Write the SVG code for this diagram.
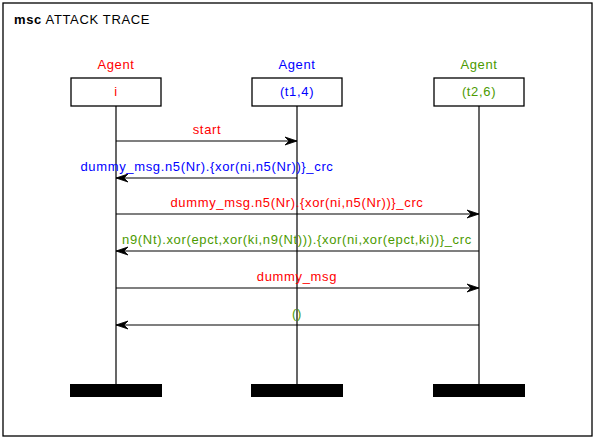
<svg xmlns="http://www.w3.org/2000/svg" width="595" height="439" viewBox="0 0 595 439">
<style>
text{font-family:"Liberation Sans",Arial,sans-serif;font-size:13px;letter-spacing:0.65px;text-anchor:middle}
.box{fill:#fff;stroke:#000;stroke-width:1.3}
.life{stroke:#000;stroke-width:1.2}
.msg{stroke:#000;stroke-width:1.2;fill:none}
.bar{fill:#000}
.r{fill:#ff0000}.b{fill:#0000ff}.g{fill:#4c9a00}
</style>
<defs>
<marker id="ah" viewBox="0 0 12 10" refX="12" refY="5" markerWidth="12" markerHeight="10" markerUnits="userSpaceOnUse" orient="auto">
<path d="M0,1 L12,5 L0,9 L4,5 Z" fill="#000" stroke="#000" stroke-width="0.8" stroke-linejoin="miter"/>
</marker>
</defs>
<rect x="3" y="3" width="589" height="433" fill="#fff" stroke="#000" stroke-width="1.3"/>
<text x="14" y="24" style="text-anchor:start"><tspan font-weight="bold">msc</tspan> ATTACK TRACE</text>
<g id="agent_i">
<text x="116" y="69" class="r">Agent</text>
<line class="life" x1="116" y1="106" x2="116" y2="384"/>
<rect class="box" x="71" y="78" width="90" height="28"/>
<text x="116" y="96" class="r">i</text>
<rect class="bar" x="70" y="384" width="92" height="13"/>
</g>
<g id="agent_t1">
<text x="297" y="69" class="b">Agent</text>
<line class="life" x1="297" y1="106" x2="297" y2="384"/>
<rect class="box" x="252" y="78" width="90" height="28"/>
<text x="297" y="96" class="b">(t1,4)</text>
<rect class="bar" x="251" y="384" width="92" height="13"/>
</g>
<g id="agent_t2">
<text x="479" y="69" class="g">Agent</text>
<line class="life" x1="479" y1="106" x2="479" y2="384"/>
<rect class="box" x="434" y="78" width="90" height="28"/>
<text x="479" y="96" class="g">(t2,6)</text>
<rect class="bar" x="433" y="384" width="92" height="13"/>
</g>
<g id="connectors">
<line class="msg" x1="116" y1="141" x2="297" y2="141" marker-end="url(#ah)"/>
<text x="207" y="134" class="r">start</text>
<line class="msg" x1="297" y1="178" x2="116" y2="178" marker-end="url(#ah)"/>
<text x="207" y="171" class="b">dummy_msg.n5(Nr).{xor(ni,n5(Nr))}_crc</text>
<line class="msg" x1="116" y1="214" x2="479" y2="214" marker-end="url(#ah)"/>
<text x="297" y="207" class="r">dummy_msg.n5(Nr).{xor(ni,n5(Nr))}_crc</text>
<line class="msg" x1="479" y1="251" x2="116" y2="251" marker-end="url(#ah)"/>
<text x="297" y="244" class="g">n9(Nt).xor(epct,xor(ki,n9(Nt))).{xor(ni,xor(epct,ki))}_crc</text>
<line class="msg" x1="116" y1="288" x2="479" y2="288" marker-end="url(#ah)"/>
<text x="297" y="281" class="r">dummy_msg</text>
<line class="msg" x1="479" y1="325" x2="116" y2="325" marker-end="url(#ah)"/>
<text x="297" y="318" class="g">()</text>
</g>
</svg>
